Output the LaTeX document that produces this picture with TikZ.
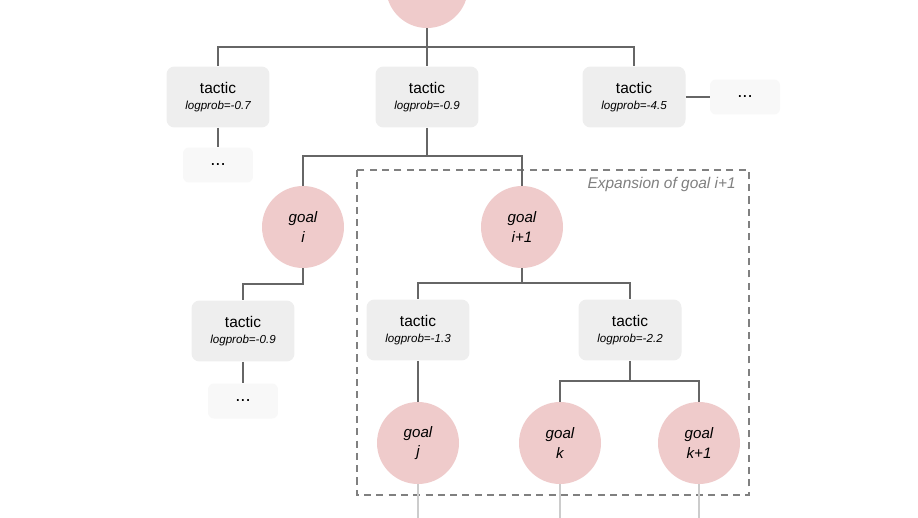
\documentclass[tikz,border=0pt]{standalone}
\usepackage{fontspec}
\setmainfont{Liberation Sans}
\usetikzlibrary{positioning}
\definecolor{goalpink}{HTML}{EFCBCB}
\definecolor{tacgray}{HTML}{EEEEEE}
\definecolor{dotgray}{HTML}{F8F8F8}
\definecolor{linegray}{HTML}{666666}
\definecolor{fadegray}{HTML}{CCCCCC}
\begin{document}
\begin{tikzpicture}[x=0.02cm,y=-0.02cm,
    goal/.style={circle,fill=goalpink,minimum size=1.64cm,inner sep=0pt,align=center,font=\fontsize{8.6}{11}\selectfont\itshape},
    tac/.style={rounded corners=0.16cm,fill=tacgray,minimum width=2.06cm,minimum height=1.22cm,inner sep=0pt,align=center},
    dots/.style={rounded corners=0.12cm,fill=dotgray,minimum width=1.4cm,minimum height=0.7cm,inner sep=0pt,font=\fontsize{10.5}{12}\selectfont},
    edge/.style={draw=linegray,line width=0.8pt}]
  \clip (0,0) rectangle (918,517);
  \fill[white] (0,0) rectangle (918,517);
  \newcommand{\tactxt}[1]{{\fontsize{8.8}{11}\selectfont tactic}\\[-2.5pt]{\fontsize{6.6}{8}\selectfont\itshape logprob=#1}}
  % top level
  \node[goal](root) at (427,-13){};
  \node[tac](tA) at (218,97){\tactxt{-0.7}};
  \node[tac](tB) at (427,97){\tactxt{-0.9}};
  \node[tac](tC) at (634,97){\tactxt{-4.5}};
  \node[dots](dA) at (218,165){...};
  \node[dots](dC) at (745,97){...};
  % second level
  \node[goal](gi) at (303,227){goal\\i};
  \node[goal](gi1) at (522,227){goal\\i+1};
  \node[tac](tD) at (243,331){\tactxt{-0.9}};
  \node[dots](dD) at (243,401){...};
  \node[tac](tE) at (418,330){\tactxt{-1.3}};
  \node[tac](tF) at (630,330){\tactxt{-2.2}};
  \node[goal](gj) at (418,443){goal\\j};
  \node[goal](gk) at (560,443){goal\\k};
  \node[goal](gk1) at (699,443){goal\\k+1};
  % expansion box
  \draw[draw=gray,line width=0.8pt,dash pattern=on 4pt off 3pt] (357,170) rectangle (749,495);
  \node[anchor=east,text=gray,font=\fontsize{8.8}{10}\selectfont\itshape](exp) at (742,184){Expansion of goal i+1};
  % connectors
  \coordinate (j0) at (427,47);
  \draw[edge] (root) -- (j0) -| (tA);
  \draw[edge] (j0) -- (tB);
  \draw[edge] (j0) -| (tC);
  \draw[edge] (tA) -- (dA);
  \draw[edge] (tC) -- (dC);
  \coordinate (j1) at (427,156);
  \draw[edge] (tB) -- (j1) -| (gi);
  \draw[edge] (j1) -| (gi1);
  \coordinate (j2) at (303,284);
  \draw[edge] (gi) -- (j2) -| (tD);
  \draw[edge] (tD) -- (dD);
  \coordinate (j3) at (522,283);
  \draw[edge] (gi1) -- (j3) -| (tE);
  \draw[edge] (j3) -| (tF);
  \draw[edge] (tE) -- (gj);
  \coordinate (j4) at (630,381);
  \draw[edge] (tF) -- (j4) -| (gk);
  \draw[edge] (j4) -| (gk1);
  % loose ends
  \foreach \g in {gj,gk,gk1}
    \draw[draw=fadegray,line width=0.8pt] (\g.south) -- (\g.south |- 0,530);
\end{tikzpicture}
\end{document}
